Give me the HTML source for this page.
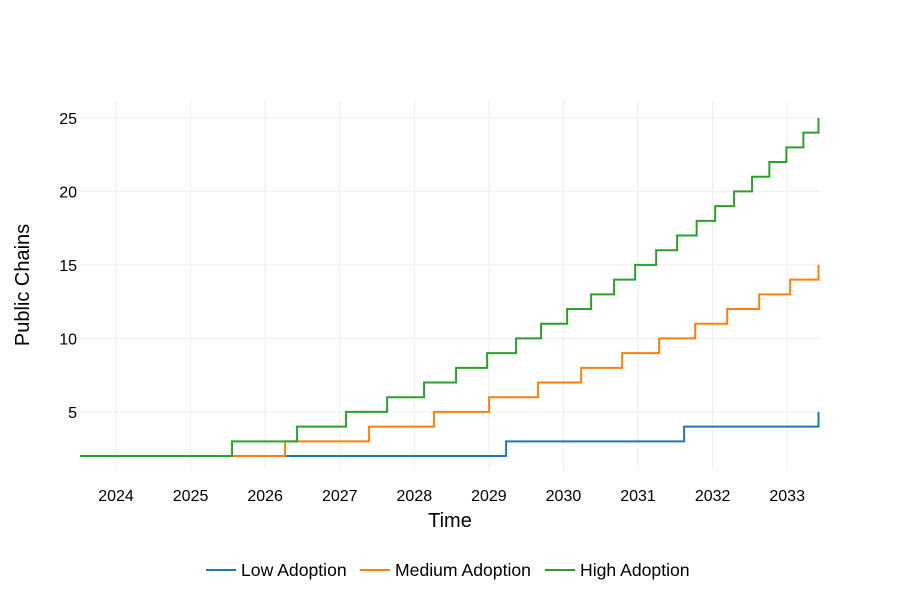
<!DOCTYPE html>
<html><head><meta charset="utf-8"><style>
body{margin:0;background:#fff;font-family:"Liberation Sans",Arial,sans-serif}
svg text{font-family:"Liberation Sans",Arial,sans-serif;fill:#000}
</style></head><body>
<svg id="chart" width="900" height="600" xmlns="http://www.w3.org/2000/svg">
<g id="grid"></g>
<g id="series"></g>
<g id="axes"></g>
<text x="450" y="527" text-anchor="middle" font-size="20">Time</text>
<text transform="translate(29,285) rotate(-90)" text-anchor="middle" font-size="20">Public Chains</text>
<g font-size="17.6">
<g><line x1="206" y1="570" x2="236" y2="570" stroke="#1f77b4" stroke-width="2"/><text x="241" y="576">Low Adoption</text></g>
<g><line x1="360" y1="570" x2="390" y2="570" stroke="#ff7f0e" stroke-width="2"/><text x="395" y="576">Medium Adoption</text></g>
<g><line x1="545" y1="570" x2="575" y2="570" stroke="#2ca02c" stroke-width="2"/><text x="580" y="576">High Adoption</text></g>
</g>
</svg>
<script>
const xTicks=[2024,2025,2026,2027,2028,2029,2030,2031,2032,2033];
const yTicks=[5,10,15,20,25];
const lowSteps=[2029.231,2031.618,2033.42];
const mediumSteps=[2026.267,2027.393,2028.265,2029.003,2029.660,2030.237,2030.787,2031.283,2031.766,2032.195,2032.624,2033.040,2033.42];
const highSteps=[2025.556,2026.428,2027.085,2027.635,2028.131,2028.560,2028.976,2029.365,2029.700,2030.049,2030.371,2030.679,2030.961,2031.243,2031.524,2031.786,2032.034,2032.288,2032.529,2032.761,2032.989,2033.217,2033.42];
const startValue=2;
const xMin=2023.517,xMax=2033.44,yMin=1.05,yMax=26.22;
const L=80,R=820,T=100,B=470;
const sx=v=>L+(v-xMin)/(xMax-xMin)*(R-L);
const sy=v=>B-(v-yMin)/(yMax-yMin)*(B-T);
const NS="http://www.w3.org/2000/svg";
function mk(t,a,p){const e=document.createElementNS(NS,t);for(const k in a)e.setAttribute(k,a[k]);p.appendChild(e);return e;}
const grid=document.getElementById('grid'),axes=document.getElementById('axes'),ser=document.getElementById('series');
xTicks.forEach(t=>{const x=sx(t);
const g=mk('line',{x1:x,x2:x,y1:T,y2:B,stroke:'#eee','stroke-width':1},grid);


const l=mk('text',{x:x,y:B+31,'text-anchor':'middle','font-size':16},axes);l.textContent=t;

});
yTicks.forEach(t=>{const y=sy(t);
const g=mk('line',{x1:L,x2:R,y1:y,y2:y,stroke:'#eee','stroke-width':1},grid);


const l=mk('text',{x:L-3,y:y+6,'text-anchor':'end','font-size':16},axes);l.textContent=t;

});
function draw(steps,color,name){let v=startValue;let d='M'+sx(xMin)+','+sy(v);
steps.forEach(s=>{d+=' H'+sx(s);v+=1;d+=' V'+sy(v);});
const p=mk('path',{d:d,fill:'none',stroke:color,'stroke-width':2},ser);

}
draw(lowSteps,'#1f77b4','line-low-adoption');
draw(mediumSteps,'#ff7f0e','line-medium-adoption');
draw(highSteps,'#2ca02c','line-high-adoption');
</script>
</body></html>
